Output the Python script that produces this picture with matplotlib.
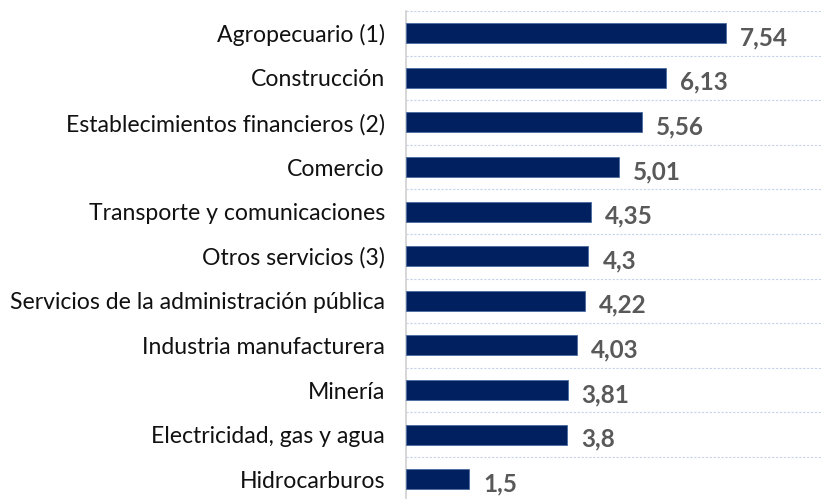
import numpy as np
import matplotlib.pyplot as plt

sectores = ['Agropecuario (1)', 'Construcción', 'Establecimientos financieros (2)',
            'Comercio', 'Transporte y comunicaciones', 'Otros servicios (3)',
            'Servicios de la administración pública', 'Industria manufacturera',
            'Minería', 'Electricidad, gas y agua', 'Hidrocarburos']
valores = [7.54, 6.13, 5.56, 5.01, 4.35, 4.3, 4.22, 4.03, 3.81, 3.8, 1.5]
etiquetas = ['7,54', '6,13', '5,56', '5,01', '4,35', '4,3', '4,22', '4,03', '3,81', '3,8', '1,5']

plt.rcParams['font.family'] = ['Lato', 'DejaVu Sans']

fig = plt.figure(figsize=(8.23, 4.99), dpi=100)
ax = fig.add_axes([0.493, -0.005, 0.504, 0.983])

y = np.arange(len(sectores))
ax.barh(y, valores, height=0.45, color='#002060', edgecolor='#4a6aa0', linewidth=0.6, zorder=3)

for yi, v, t in zip(y, valores, etiquetas):
    ax.text(v + 0.33, yi + 0.1, t, ha='left', va='center', fontsize=17.5,
            fontweight='bold', color='#595959')

ax.set_xlim(0, 9.76)
ax.set_ylim(len(sectores) - 0.5, -0.5)
ax.set_yticks(y)
ax.set_yticklabels(sectores, fontsize=16.6, color='#111111')
ax.set_xticks([])
ax.set_yticks(np.arange(-0.5, len(sectores), 1), minor=True)
ax.tick_params(axis='y', which='both', length=0, pad=15)
ax.grid(which='minor', axis='y', linestyle=(0, (2, 1.5)), color='#c5d3ea', linewidth=0.8)

for s in ['top', 'right', 'bottom']:
    ax.spines[s].set_visible(False)
ax.spines['left'].set_color('#d0d0d0')
ax.spines['left'].set_linewidth(1.2)

fig.savefig('out.png', dpi=100)
